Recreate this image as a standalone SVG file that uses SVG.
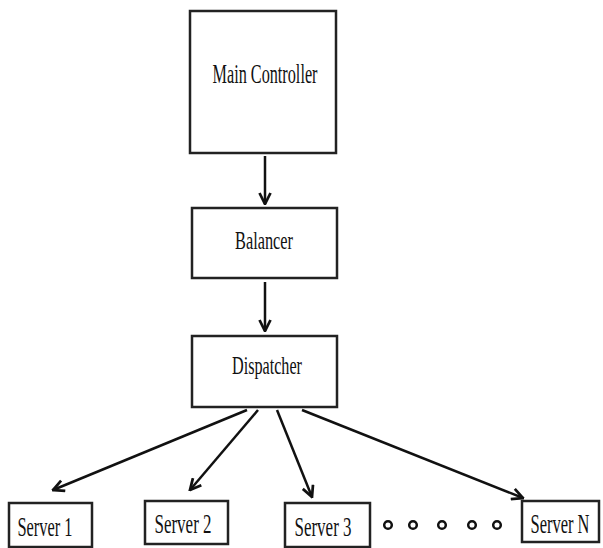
<svg xmlns="http://www.w3.org/2000/svg" width="603" height="548" viewBox="0 0 603 548">
<style>
.box{fill:#fff;stroke:#222;stroke-width:2.5}
.lbl{font-family:"Liberation Serif","Times New Roman",serif;fill:#111;text-anchor:middle}
.con{stroke:#111;stroke-width:2.5;fill:none;marker-end:url(#ah)}
.dot{fill:#fff;stroke:#111;stroke-width:2.5}
</style>
<defs>
<marker id="ah" viewBox="0 0 10 10" refX="9" refY="5" markerWidth="5.5" markerHeight="5.5" orient="auto" markerUnits="strokeWidth">
<path d="M1,1 L9,5 L1,9" fill="none" stroke="#111" stroke-width="2"/>
</marker>
</defs>
<rect width="603" height="548" fill="#fff"/>
<g id="main-controller"><rect class="box" x="190" y="11" width="146" height="142"/><text class="lbl" x="265" y="83" font-size="28" textLength="105" lengthAdjust="spacingAndGlyphs">Main Controller</text></g>
<g id="balancer"><rect class="box" x="192" y="208" width="145" height="70"/><text class="lbl" x="264" y="249" font-size="25" textLength="58" lengthAdjust="spacingAndGlyphs">Balancer</text></g>
<g id="dispatcher"><rect class="box" x="192" y="336" width="145" height="71"/><text class="lbl" x="267" y="374" font-size="25" textLength="70" lengthAdjust="spacingAndGlyphs">Dispatcher</text></g>
<g id="server1"><rect class="box" x="9" y="503" width="83" height="44"/><text class="lbl" x="45" y="536" font-size="28" textLength="55" lengthAdjust="spacingAndGlyphs">Server 1</text></g>
<g id="server2"><rect class="box" x="145" y="501" width="83" height="43"/><text class="lbl" x="183" y="533" font-size="28" textLength="57" lengthAdjust="spacingAndGlyphs">Server 2</text></g>
<g id="server3"><rect class="box" x="285" y="503" width="85" height="44"/><text class="lbl" x="323" y="536" font-size="28" textLength="57" lengthAdjust="spacingAndGlyphs">Server 3</text></g>
<g id="serverN"><rect class="box" x="522" y="501" width="77" height="41"/><text class="lbl" transform="translate(560,533) scale(0.61,1)" x="0" y="0" font-size="27">Server N</text></g>
<g id="ellipsis">
<circle class="dot" cx="388" cy="525" r="3.8"/>
<circle class="dot" cx="413" cy="525" r="3.8"/>
<circle class="dot" cx="442" cy="525" r="3.8"/>
<circle class="dot" cx="472" cy="525" r="3.8"/>
<circle class="dot" cx="497" cy="525" r="3.8"/>
</g>
<g id="connectors">
<line class="con" x1="265" y1="156" x2="265" y2="204"/>
<line class="con" x1="265" y1="282" x2="265" y2="331"/>
<line class="con" x1="247" y1="410" x2="53" y2="490"/>
<line class="con" x1="258" y1="410" x2="190" y2="490"/>
<line class="con" x1="277" y1="410" x2="312" y2="497"/>
<line class="con" x1="302" y1="410" x2="523" y2="498"/>
</g>
</svg>
